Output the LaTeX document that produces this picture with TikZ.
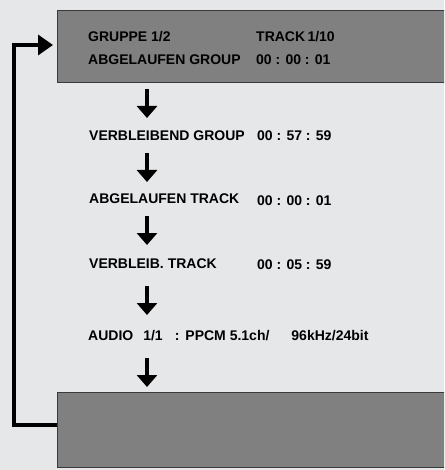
\documentclass[tikz,border=0pt]{standalone}
\usepackage{fontspec}
\setmainfont{Liberation Sans}
\usetikzlibrary{arrows.meta}
\definecolor{bg}{HTML}{E6E7E9}
\definecolor{boxfill}{HTML}{808080}
\definecolor{boxline}{HTML}{3A3A3A}
\begin{document}
\begin{tikzpicture}[x=1pt,y=1pt,
  panel/.style={draw=boxline,line width=1pt,fill=boxfill,rectangle,anchor=north west,inner sep=0pt},
  lbl/.style={anchor=base west,inner sep=0pt,font=\fontsize{14}{16}\selectfont\bfseries},
  downarrow/.style={line width=3.2pt,-{Triangle[length=12pt,width=20pt]}},
  looparrow/.style={line width=3.5pt,-{Triangle[length=15pt,width=20pt]}}]
\useasboundingbox (0,0) rectangle (444,-470);
\fill[bg] (0,0) rectangle (444,-470);
\begin{scope}
\clip (0,0) rectangle (444,-470);
\node[panel,minimum width=392pt,minimum height=72pt] (top) at (57,-10) {};
\node[panel,minimum width=392pt,minimum height=75pt] (bottom) at (57,-392) {};
\end{scope}
% texts
\node[lbl] (g) at (88,-42) {GRUPPE 1/2};
\node[lbl] (t) at (256,-42) {TRACK\,1/10};
\node[lbl] (ag) at (88,-65) {ABGELAUFEN GROUP};
\node[lbl] (agt) at (256,-65) {00 : 00 : 01};
\node[lbl] (vg) at (89,-141) {VERBLEIBEND GROUP};
\node[lbl] (vgt) at (257,-141) {00 : 57 : 59};
\node[lbl] (at) at (89,-204) {ABGELAUFEN TRACK};
\node[lbl] (att) at (257,-205) {00 : 00 : 01};
\node[lbl] (vt) at (89,-268) {VERBLEIB. TRACK};
\node[lbl] (vtt) at (257,-269) {00 : 05 : 59};
\node[lbl] (au) at (88,-340) {AUDIO\hspace*{10pt}1/1\hspace*{12pt}:\hspace*{6pt}PPCM 5.1ch/\hspace*{22pt}96kHz/24bit};
% arrow coordinates
\coordinate (a1s) at (147,-89);  \coordinate (a1e) at (147,-118);
\coordinate (a2s) at (147,-153); \coordinate (a2e) at (147,-182);
\coordinate (a3s) at (147,-216); \coordinate (a3e) at (147,-245);
\coordinate (a4s) at (147,-286); \coordinate (a4e) at (147,-315);
\coordinate (a5s) at (147,-358); \coordinate (a5e) at (147,-387);
\foreach \i in {1,...,5} {\draw[downarrow] (a\i s) -- (a\i e);}
% loop back
\coordinate (lb) at (57,-425);
\coordinate (lt) at (57,-45);
\draw[looparrow,shorten >=4pt] (lb) -- (14,-425) -- (14,-45) -- (lt);
\end{tikzpicture}
\end{document}
